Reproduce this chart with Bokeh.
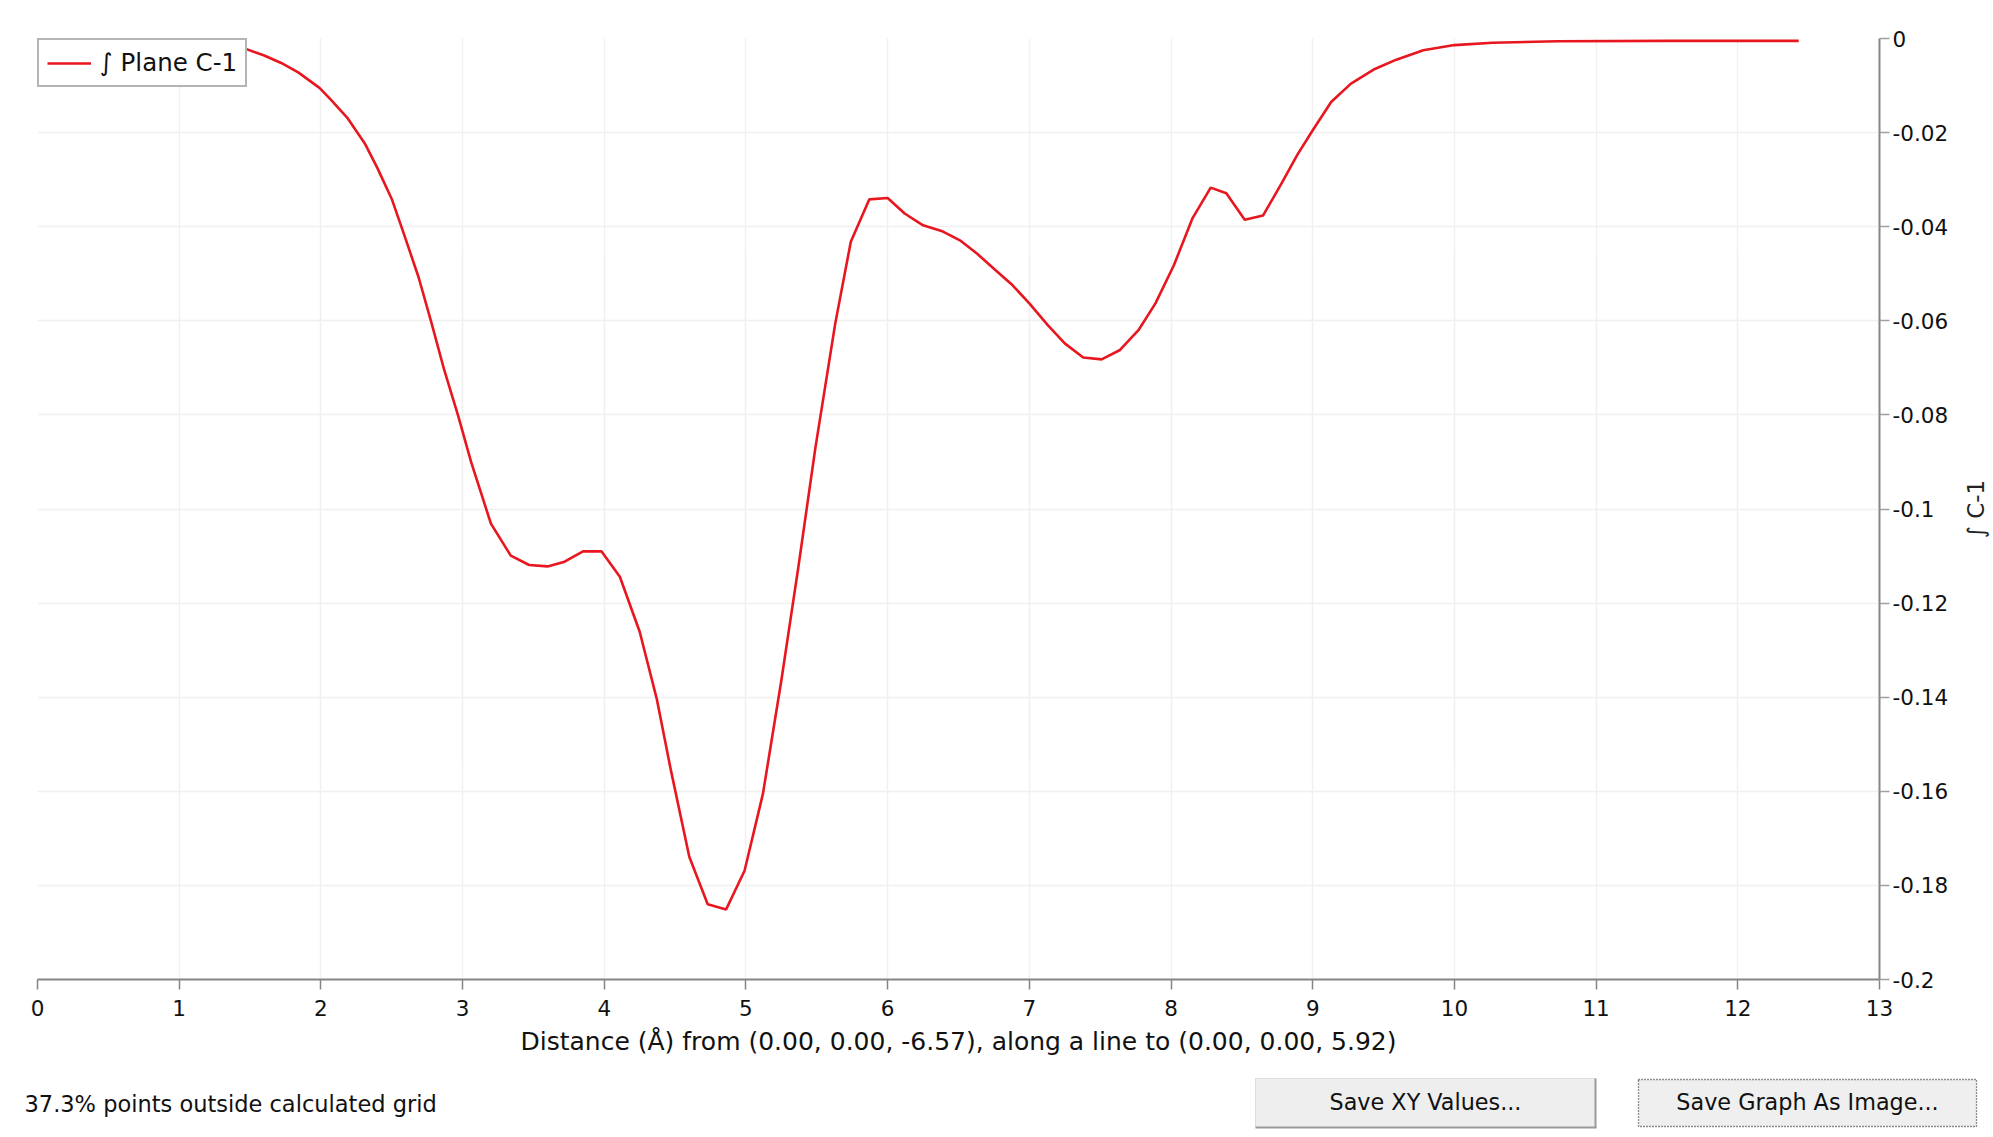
import math
from bokeh.plotting import figure
from bokeh.models import (Range1d, FixedTicker, CustomJSTickFormatter, Legend,
                          LegendItem)
from bokeh.layouts import row
from bokeh.embed import file_html
from bokeh.resources import INLINE
from bokeh.core.properties import value

# ---------------- data ----------------
distance = [0.00, 0.50, 0.80, 1.00, 1.20, 1.33, 1.46, 1.60, 1.72, 1.84,
            1.99, 2.07, 2.19, 2.31, 2.40, 2.50, 2.59, 2.69, 2.78, 2.87,
            2.97, 3.06, 3.20, 3.34, 3.47, 3.60, 3.72, 3.85, 3.98, 4.11,
            4.25, 4.37, 4.47, 4.60, 4.73, 4.86, 4.99, 5.12, 5.25, 5.37,
            5.49, 5.63, 5.74, 5.87, 6.00, 6.12, 6.25, 6.38, 6.51, 6.63,
            6.76, 6.88, 7.00, 7.13, 7.25, 7.38, 7.51, 7.64, 7.77, 7.89,
            8.02, 8.15, 8.28, 8.39, 8.52, 8.65, 8.78, 8.89, 9.00, 9.13,
            9.27, 9.43, 9.59, 9.78, 10.00, 10.27, 10.73, 11.50, 12.43]
integral = [-0.0005, -0.0006, -0.0008, -0.0011, -0.0015, -0.0018, -0.0021, -0.0036, -0.0052, -0.0072,
            -0.0105, -0.0130, -0.0170, -0.0223, -0.0276, -0.0341, -0.0419, -0.0508, -0.0604, -0.0704,
            -0.0803, -0.0900, -0.1031, -0.1099, -0.1119, -0.1122, -0.1112, -0.1090, -0.1090, -0.1144,
            -0.1261, -0.1403, -0.1555, -0.1739, -0.1840, -0.1851, -0.1769, -0.1605, -0.1364, -0.1123,
            -0.0870, -0.0606, -0.0432, -0.0342, -0.0339, -0.0372, -0.0397, -0.0409, -0.0429, -0.0457,
            -0.0492, -0.0524, -0.0563, -0.0609, -0.0648, -0.0678, -0.0682, -0.0662, -0.0620, -0.0563,
            -0.0482, -0.0383, -0.0317, -0.0329, -0.0385, -0.0376, -0.0308, -0.0248, -0.0195, -0.0135,
            -0.0096, -0.0066, -0.0045, -0.0025, -0.0014, -0.0009, -0.0006, -0.0005, -0.0005]

x_ticks = [0, 1, 2, 3, 4, 5, 6, 7, 8, 9, 10, 11, 12, 13]
y_ticks = [0, -0.02, -0.04, -0.06, -0.08, -0.1, -0.12, -0.14, -0.16, -0.18, -0.2]

series_label = "∫ Plane C-1"
x_title = "Distance (Å) from (0.00, 0.00, -6.57), along a line to (0.00, 0.00, 5.92)"
y_title = "∫ C-1"
status_text = "37.3% points outside calculated grid"
button_labels = ["Save XY Values...", "Save Graph As Image..."]

# ---------------- styling ----------------
RED = "#e8161e"
AXIS = "#858585"
GRID = "#f0f0f0"
FONT = "DejaVu Sans"

W = 1990
BORDER_L, BORDER_T = 37, 38
FRAME_R, FRAME_B = 1879, 979
W1 = 1955          # chart part; the remaining strip holds the right-hand title
H1 = 1068
H2 = 62

p = figure(width=W1, height=H1, x_range=Range1d(0, 13), y_range=Range1d(-0.2, 0),
           output_backend="svg", toolbar_location=None, y_axis_location="right",
           min_border_left=BORDER_L, min_border_right=W1 - FRAME_R,
           min_border_top=BORDER_T, min_border_bottom=H1 - FRAME_B)
p.outline_line_color = None
p.background_fill_color = "white"
p.border_fill_color = "white"

xa = p.xaxis[0]
xa.ticker = FixedTicker(ticks=x_ticks)
p.xgrid.ticker = xa.ticker
xa.axis_line_color = AXIS
xa.axis_line_width = 2
xa.major_tick_line_color = AXIS
xa.major_tick_line_width = 1.5
xa.major_tick_out = 10
xa.major_tick_in = 0
xa.minor_tick_line_color = None
xa.major_label_text_font = FONT
xa.major_label_text_font_size = "21.5px"
xa.major_label_text_color = "#111111"
xa.major_label_standoff = 10
xa.axis_label = x_title
xa.axis_label_text_font = FONT
xa.axis_label_text_font_size = "25px"
xa.axis_label_text_font_style = "normal"
xa.axis_label_text_color = "#111111"
xa.axis_label_standoff = 8

ya = p.yaxis[0]
ya.ticker = FixedTicker(ticks=y_ticks)
p.ygrid.ticker = ya.ticker
ya.formatter = CustomJSTickFormatter(code="return Number(tick.toFixed(2)).toString();")
ya.axis_line_color = AXIS
ya.axis_line_width = 2
ya.major_tick_line_color = "#a0a0a0"
ya.major_tick_line_width = 1.5
ya.major_tick_out = 10
ya.major_tick_in = 0
ya.minor_tick_line_color = None
ya.major_label_text_font = FONT
ya.major_label_text_font_size = "21.5px"
ya.major_label_text_color = "#111111"
ya.major_label_standoff = 3

for g in (p.xgrid[0], p.ygrid[0]):
    g.grid_line_color = GRID
    g.grid_line_width = 1.5

r = p.line(distance, integral, line_color=RED, line_width=2.6)

legend = Legend(items=[LegendItem(label=series_label, renderers=[r])],
                location="top_left", margin=0, padding=8, spacing=0,
                glyph_width=44, glyph_height=24, label_standoff=9,
                label_text_font=FONT, label_text_font_size="24.5px",
                label_text_color="#111111",
                border_line_color="#6a6a6a", border_line_width=2,
                background_fill_color="white", background_fill_alpha=1.0)
p.add_layout(legend)

# ---------------- right strip with the y-axis title (reads bottom-to-top) ----------------
pt = figure(width=W - W1, height=H1, x_range=Range1d(W1, W), y_range=Range1d(0, 1),
            output_backend="svg", toolbar_location=None,
            x_axis_location=None, y_axis_location=None,
            min_border_left=0, min_border_right=0,
            min_border_top=BORDER_T, min_border_bottom=H1 - FRAME_B)
pt.outline_line_color = None
pt.grid.visible = False
pt.border_fill_color = "white"
pt.background_fill_color = "white"
pt.text(x=[1975], y=[0.5], text=[y_title], angle=math.pi / 2,
        text_font=value(FONT), text_font_size=value("23px"),
        text_color="#222222", text_align="center", text_baseline="middle")

# ---------------- bottom status bar (separate root, page coordinates) ----------------
p2 = figure(width=W, height=H2, x_range=Range1d(0, W), y_range=Range1d(H2, 0),
            output_backend="svg", toolbar_location=None,
            x_axis_location=None, y_axis_location=None, min_border=0)
p2.outline_line_color = None
p2.grid.visible = False
p2.border_fill_color = "white"
p2.background_fill_color = "white"

b_left = [1255, 1638]
b_right = [1595, 1976]
b_top = [10, 11]
b_bottom = [59, 58]
p2.quad(left=b_left, right=b_right, top=b_top, bottom=b_bottom,
        fill_color=["#eeeeee", "#efefef"], line_color=None)
p2.segment(x0=[1255, 1255], y0=[10, 10], x1=[1595, 1255], y1=[10, 59],
           line_color="#dddddd", line_width=1)
p2.segment(x0=[1595, 1255], y0=[10, 59], x1=[1595, 1596], y1=[59, 59],
           line_color="#999999", line_width=2)
p2.quad(left=[1638], right=[1976], top=[11], bottom=[58],
        fill_color=None, line_color="#222222", line_width=1.3, line_dash="1 2")

p2.text(x=[1425, 1807], y=[33, 33], text=button_labels,
        text_font=value(FONT), text_font_size=value("22.3px"),
        text_color="#111111", text_align="center", text_baseline="alphabetic")
p2.text(x=[24], y=[35], text=[status_text],
        text_font=value(FONT), text_font_size=value("22.5px"),
        text_color="#111111", text_align="left", text_baseline="alphabetic")

open("out.html", "w").write(file_html([row(p, pt, spacing=0), p2], INLINE))
